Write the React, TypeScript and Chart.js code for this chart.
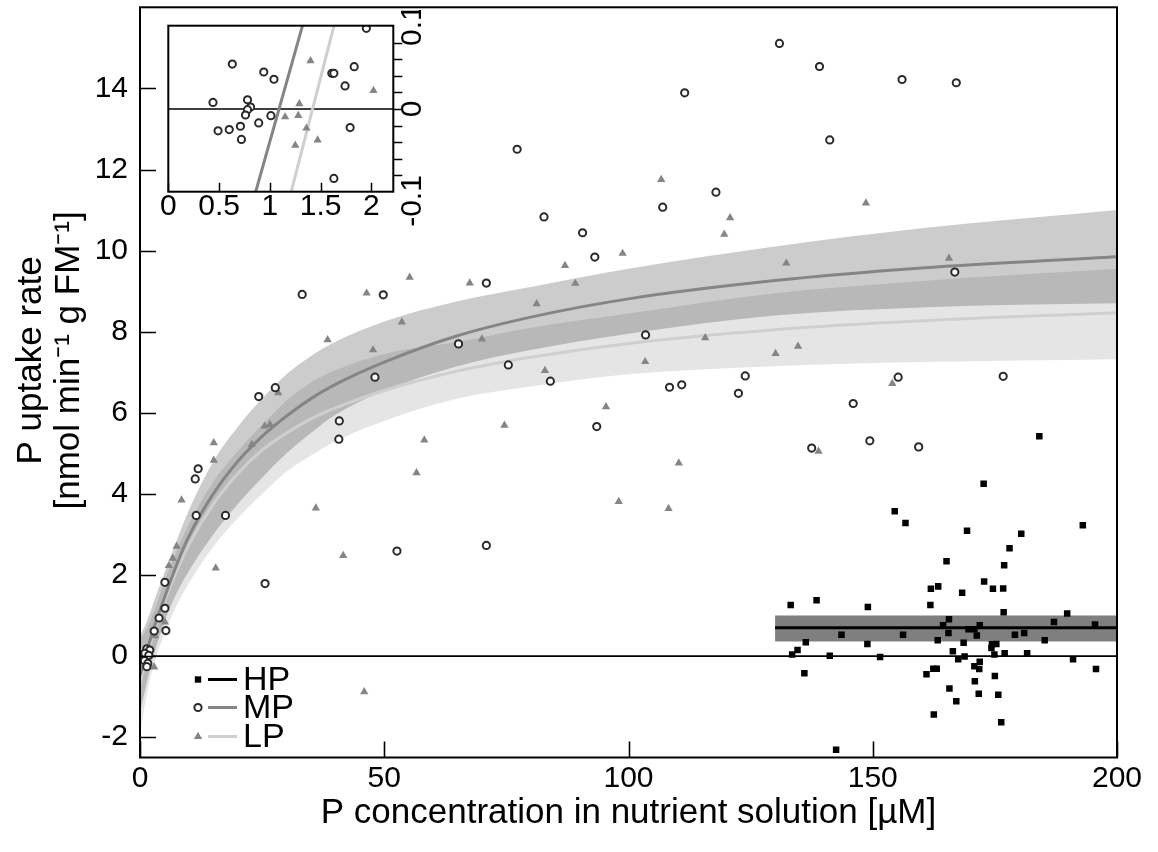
import React, { useEffect, useRef } from 'react';
import { Chart, registerables } from 'chart.js';

Chart.register(...registerables);

const FONT = "'Liberation Sans', Arial, Helvetica, sans-serif";

// ---- main chart axes / text ----
const X_TICKS = [0, 50, 100, 150, 200];
const Y_TICKS = [-2, 0, 2, 4, 6, 8, 10, 12, 14];
const X_TITLE = 'P concentration in nutrient solution [µM]';
const Y_TITLE = ['P uptake rate', '[nmol min⁻¹ g FM⁻¹]'];
const LEGEND_LABELS = ['HP', 'MP', 'LP'];

// ---- HP observations ----
const HP_X = [172.7, 154.5, 156.7, 193.0, 169.3, 180.4, 178.0, 165.1, 176.9, 172.8, 161.9, 163.4, 174.6, 176.7, 168.3, 133.2, 138.5, 149.0, 161.8, 176.8, 189.8, 165.6, 187.1, 195.5, 164.4, 171.9, 169.6, 170.8, 165.5, 143.6, 156.2, 171.3, 179.1, 181.0, 163.3, 185.2, 136.3, 148.9, 168.6, 174.4, 175.3, 174.3, 134.6, 133.5, 141.2, 151.5, 166.4, 167.5, 168.8, 174.9, 177.0, 181.6, 191.0, 171.9, 170.8, 171.8, 136.0, 161.0, 162.4, 163.1, 195.7, 175.0, 170.9, 165.7, 171.7, 175.7, 167.1, 162.5, 176.3, 142.5, 184.1];
const HP_Y = [4.25, 3.57, 3.28, 3.23, 3.09, 3.02, 2.66, 2.34, 2.24, 1.84, 1.66, 1.72, 1.66, 1.67, 1.56, 1.26, 1.38, 1.21, 1.26, 1.08, 1.05, 0.91, 0.84, 0.78, 0.76, 0.76, 0.66, 0.66, 0.57, 0.53, 0.53, 0.51, 0.53, 0.57, 0.39, 0.39, 0.34, 0.30, 0.33, 0.29, 0.30, 0.20, 0.15, 0.04, 0.01, -0.02, 0.12, -0.08, -0.01, 0.04, 0.07, 0.07, -0.08, -0.14, -0.25, -0.32, -0.42, -0.45, -0.31, -0.31, -0.32, -0.49, -0.62, -0.80, -0.93, -0.95, -1.11, -1.44, -1.63, -2.31, 5.42];

// ---- MP observations ----
const MP_X = [130.9, 139.1, 156.0, 167.1, 141.2, 111.5, 77.2, 117.9, 107.0, 82.7, 90.6, 93.1, 70.9, 33.2, 49.8, 166.8, 103.5, 75.4, 84.0, 65.2, 123.9, 108.4, 110.9, 122.5, 93.5, 155.2, 176.7, 146.0, 137.5, 149.4, 159.4, 27.7, 24.3, 48.1, 40.8, 40.7, 11.9, 11.3, 11.5, 17.5, 52.6, 70.9, 25.6, 5.1, 5.1, 3.9, 5.3, 2.9, 1.4, 2.0, 1.0, 1.8, 0.9, 1.6, 1.4];
const MP_Y = [15.11, 14.54, 14.22, 14.14, 12.73, 13.89, 12.50, 11.44, 11.07, 10.83, 10.44, 9.84, 9.20, 8.92, 8.91, 9.47, 7.92, 7.18, 6.78, 7.70, 6.91, 6.63, 6.69, 6.48, 5.66, 6.88, 6.90, 6.23, 5.13, 5.31, 5.16, 6.62, 6.40, 6.88, 5.80, 5.35, 4.62, 4.37, 3.47, 3.47, 2.59, 2.73, 1.79, 1.82, 1.18, 0.94, 0.63, 0.62, 0.18, 0.15, 0.07, 0.02, -0.11, -0.18, -0.26];

// ---- LP observations ----
const LP_X = [106.7, 120.8, 119.6, 98.8, 87.0, 67.5, 89.1, 81.2, 70.0, 115.7, 130.1, 103.4, 82.9, 95.4, 74.6, 110.3, 98.0, 108.2, 148.6, 132.3, 165.6, 134.7, 154.0, 138.9, 55.2, 46.4, 38.4, 53.6, 47.7, 28.3, 25.5, 26.6, 22.9, 15.1, 15.1, 58.2, 56.6, 36.0, 8.5, 41.6, 15.5, 7.5, 6.7, 5.9, 5.1, 3.1, 2.9, 45.9];
const LP_Y = [11.75, 10.81, 10.40, 9.93, 9.63, 9.20, 9.19, 8.69, 7.82, 7.85, 7.46, 7.26, 7.04, 6.15, 5.69, 4.76, 3.81, 3.64, 11.17, 9.69, 9.81, 7.64, 6.72, 5.05, 9.34, 8.95, 7.80, 8.24, 7.55, 6.49, 5.67, 5.71, 5.22, 5.26, 4.83, 5.33, 4.52, 3.65, 3.85, 2.48, 2.17, 2.71, 2.41, 2.23, 0.84, 0.50, -0.27, -0.88];

// ---- fitted curves and confidence bands ----
const FIT_X = [0, 1, 2, 3, 5, 7.5, 10, 15, 20, 25, 30, 35, 40, 50, 65, 80, 100, 130, 160, 200];
const MP_FIT = [-0.48, -0.04, 0.37, 0.75, 1.44, 2.25, 2.95, 4.0, 4.8, 5.42, 5.92, 6.35, 6.7, 7.25, 7.9, 8.36, 8.81, 9.26, 9.57, 9.85];
const MP_LOW = [-1.4, -0.85, -0.35, 0.1, 0.85, 1.55, 2.1, 3.0, 3.75, 4.4, 5.0, 5.5, 5.95, 6.55, 7.15, 7.55, 7.95, 8.4, 8.6, 8.7];
const MP_HIGH = [0.5, 0.75, 1.05, 1.4, 2.05, 2.85, 3.6, 4.8, 5.65, 6.35, 6.95, 7.4, 7.75, 8.25, 8.75, 9.1, 9.55, 10.1, 10.55, 11.0];
const LP_FIT = [-0.66, -0.19, 0.25, 0.64, 1.34, 2.1, 2.75, 3.75, 4.5, 5.08, 5.5, 5.85, 6.12, 6.55, 7.03, 7.37, 7.71, 8.05, 8.27, 8.47];
const LP_LOW = [-1.9, -1.2, -0.6, -0.15, 0.55, 1.25, 1.8, 2.7, 3.4, 4.0, 4.55, 4.95, 5.3, 5.8, 6.35, 6.65, 6.95, 7.15, 7.25, 7.32];
const LP_HIGH = [0.4, 0.6, 0.85, 1.15, 1.85, 2.6, 3.25, 4.3, 5.05, 5.7, 6.3, 6.75, 7.05, 7.45, 7.75, 8.1, 8.45, 8.95, 9.25, 9.55];
const HP_FIT_X = [130, 200];
const HP_FIT = [0.7, 0.7];
const HP_LOW = [0.36, 0.36];
const HP_HIGH = [1.0, 1.0];
const ZERO_X = [0, 200];
const ZERO_Y = [0, 0];

// ---- inset ----
const INSET_X_TICKS = [0, 0.5, 1, 1.5, 2];
const INSET_X_LABELS = ['0', '0.5', '1', '1.5', '2'];
const INSET_Y_MARKS = [-0.1, -0.075, -0.05, -0.025, 0, 0.025, 0.05, 0.075, 0.1];
const INSET_Y_LABEL_VALUES = [0.1, 0, -0.1];
const INSET_Y_LABELS = ['0.1', '0', '-0.1'];
const INSET_MP_X = [1.95, 0.63, 0.94, 1.04, 1.61, 1.63, 1.83, 1.74, 0.44, 0.78, 0.81, 0.78, 0.76, 1.01, 0.89, 0.49, 0.6, 0.71, 0.72, 1.79, 1.63];
const INSET_MP_Y = [0.122, 0.068, 0.056, 0.045, 0.054, 0.054, 0.064, 0.035, 0.01, 0.014, 0.003, -0.001, -0.009, -0.01, -0.021, -0.033, -0.031, -0.026, -0.046, -0.028, -0.105];
const INSET_LP_X = [1.4, 2.02, 1.29, 1.15, 1.28, 1.36, 1.47, 1.25];
const INSET_LP_Y = [0.073, 0.028, 0.008, -0.012, -0.01, -0.029, -0.047, -0.055];
const INSET_MP_LINE_X = [0.8, 1.4];
const INSET_MP_LINE_Y = [-0.158, 0.169];
const INSET_LP_LINE_X = [1.15, 1.7];
const INSET_LP_LINE_Y = [-0.161, 0.167];
const INSET_ZERO_X = [0, 2.3];
const INSET_ZERO_Y = [0, 0];

const pts = (xs: number[], ys: number[]) => xs.map((x, i) => ({ x, y: ys[i] }));

const C_MP_LINE = '#858585';
const C_LP_LINE = '#cfcfcf';
const C_TRI = '#858585';
const C_CIRCLE = '#2a2a2a';

function drawMarker(ctx: CanvasRenderingContext2D, kind: string, x: number, y: number) {
  ctx.save();
  if (kind === 'rect') {
    ctx.fillStyle = '#000';
    ctx.fillRect(x - 3.2, y - 3.2, 6.4, 6.4);
  } else if (kind === 'circle') {
    ctx.beginPath();
    ctx.arc(x, y, 3.6, 0, Math.PI * 2);
    ctx.fillStyle = '#fff';
    ctx.fill();
    ctx.lineWidth = 2;
    ctx.strokeStyle = C_CIRCLE;
    ctx.stroke();
  } else {
    const r = 4.8;
    ctx.beginPath();
    ctx.moveTo(x, y - r);
    ctx.lineTo(x + r * Math.sin(2 * Math.PI / 3), y + r / 2);
    ctx.lineTo(x - r * Math.sin(2 * Math.PI / 3), y + r / 2);
    ctx.closePath();
    ctx.fillStyle = C_TRI;
    ctx.fill();
  }
  ctx.restore();
}

const mainDecor = {
  id: 'mainDecor',
  afterDraw(chart: any) {
    const { ctx, chartArea: a, scales } = chart;
    const xs = scales.x;
    const ys = scales.y;
    ctx.save();
    ctx.strokeStyle = '#000';
    ctx.lineWidth = 2;
    ctx.strokeRect(a.left, a.top, a.right - a.left, a.bottom - a.top);
    ctx.lineWidth = 1.6;
    ctx.beginPath();
    Y_TICKS.forEach((v) => {
      const py = Math.round(ys.getPixelForValue(v)) + 0.5;
      ctx.moveTo(a.left, py);
      ctx.lineTo(a.left + 16, py);
    });
    X_TICKS.forEach((v) => {
      const px = Math.round(xs.getPixelForValue(v)) + 0.5;
      ctx.moveTo(px, a.bottom);
      ctx.lineTo(px, a.bottom - 16);
    });
    ctx.stroke();

    // y-axis title (two lines, rotated)
    ctx.fillStyle = '#000';
    ctx.font = `35px ${FONT}`;
    ctx.textAlign = 'center';
    ctx.textBaseline = 'middle';
    const titleCentre = (a.top + a.bottom) / 2 - 22;
    const titleXs = [31, 69];
    Y_TITLE.forEach((line, i) => {
      ctx.save();
      ctx.translate(titleXs[i], titleCentre);
      ctx.rotate(-Math.PI / 2);
      ctx.fillText(line, 0, 0);
      ctx.restore();
    });

    // legend
    const kinds = ['rect', 'circle', 'triangle'];
    const colors = ['#000', C_MP_LINE, C_LP_LINE];
    const rows = [a.bottom - 78, a.bottom - 50, a.bottom - 21];
    ctx.font = `34px ${FONT}`;
    ctx.textBaseline = 'middle';
    ctx.textAlign = 'left';
    LEGEND_LABELS.forEach((lab, i) => {
      const y = rows[i];
      drawMarker(ctx, kinds[i], a.left + 58, y);
      ctx.beginPath();
      ctx.strokeStyle = colors[i];
      ctx.lineWidth = 3;
      ctx.moveTo(a.left + 68, y);
      ctx.lineTo(a.left + 97, y);
      ctx.stroke();
      ctx.fillStyle = '#000';
      ctx.fillText(lab, a.left + 103, y + 1);
    });
    ctx.restore();
  },
};

const insetDecor = {
  id: 'insetDecor',
  beforeDraw(chart: any) {
    const { ctx, chartArea: a } = chart;
    ctx.save();
    ctx.fillStyle = '#fff';
    ctx.fillRect(a.left, a.top, a.right - a.left, a.bottom - a.top);
    ctx.restore();
  },
  afterDraw(chart: any) {
    const { ctx, chartArea: a, scales } = chart;
    const xs = scales.x;
    const ys = scales.y;
    ctx.save();
    ctx.strokeStyle = '#000';
    ctx.lineWidth = 2;
    ctx.strokeRect(a.left, a.top, a.right - a.left, a.bottom - a.top);
    ctx.lineWidth = 1.5;
    ctx.beginPath();
    INSET_X_TICKS.forEach((v) => {
      const px = Math.round(xs.getPixelForValue(v)) + 0.5;
      ctx.moveTo(px, a.bottom);
      ctx.lineTo(px, a.bottom - 9);
    });
    INSET_Y_MARKS.forEach((v) => {
      const py = Math.round(ys.getPixelForValue(v)) + 0.5;
      ctx.moveTo(a.right, py);
      ctx.lineTo(a.right + 9, py);
    });
    ctx.stroke();
    ctx.fillStyle = '#000';
    ctx.font = `30px ${FONT}`;
    ctx.textBaseline = 'middle';
    const aligns = ['left', 'center', 'right'];
    const nudges = [-3, 0, 0];
    INSET_Y_LABEL_VALUES.forEach((v, i) => {
      const py = ys.getPixelForValue(v);
      ctx.save();
      ctx.translate(a.right + 19, py);
      ctx.rotate(-Math.PI / 2);
      ctx.textAlign = aligns[i] as CanvasTextAlign;
      ctx.fillText(INSET_Y_LABELS[i], nudges[i], 0);
      ctx.restore();
    });
    ctx.restore();
  },
};

function fixPadding(s: any) {
  s.paddingTop = 0;
  s.paddingBottom = 0;
  s.paddingLeft = 0;
  s.paddingRight = 0;
}

export default function App() {
  const mainRef = useRef<HTMLCanvasElement>(null);
  const insetRef = useRef<HTMLCanvasElement>(null);

  useEffect(() => {
    const flat = { pointRadius: 0, pointHoverRadius: 0 };
    const mainChart = new Chart(mainRef.current as HTMLCanvasElement, {
      type: 'line',
      data: {
        datasets: [
          { label: 'HP', data: pts(HP_X, HP_Y), showLine: false, pointStyle: 'rect', pointRadius: 4.6, pointBackgroundColor: '#000', pointBorderWidth: 0, order: 1 },
          { label: 'MP', data: pts(MP_X, MP_Y), showLine: false, pointStyle: 'circle', pointRadius: 3.6, pointBackgroundColor: '#fff', pointBorderColor: C_CIRCLE, pointBorderWidth: 2, order: 2 },
          { label: 'LP', data: pts(LP_X, LP_Y), showLine: false, pointStyle: 'triangle', pointRadius: 4.8, pointBackgroundColor: C_TRI, pointBorderWidth: 0, order: 3 },
          { label: 'HP fit', data: pts(HP_FIT_X, HP_FIT), borderColor: '#000', borderWidth: 3.2, ...flat, fill: false, order: 5 },
          { label: 'MP fit', data: pts(FIT_X, MP_FIT), borderColor: C_MP_LINE, borderWidth: 3, cubicInterpolationMode: 'monotone', ...flat, fill: false, order: 6 },
          { label: 'LP fit', data: pts(FIT_X, LP_FIT), borderColor: C_LP_LINE, borderWidth: 3, cubicInterpolationMode: 'monotone', ...flat, fill: false, order: 7 },
          { label: 'zero', data: pts(ZERO_X, ZERO_Y), borderColor: '#000', borderWidth: 1.6, ...flat, fill: false, order: 8 },
          { label: 'HP low', data: pts(HP_FIT_X, HP_LOW), borderWidth: 0, borderColor: 'rgba(0,0,0,0)', ...flat, fill: false, order: 20 },
          { label: 'HP high', data: pts(HP_FIT_X, HP_HIGH), borderWidth: 0, borderColor: 'rgba(0,0,0,0)', backgroundColor: '#7f7f7f', ...flat, fill: 7, order: 10 },
          { label: 'MP low', data: pts(FIT_X, MP_LOW), borderWidth: 0, borderColor: 'rgba(0,0,0,0)', cubicInterpolationMode: 'monotone', ...flat, fill: false, order: 21 },
          { label: 'MP high', data: pts(FIT_X, MP_HIGH), borderWidth: 0, borderColor: 'rgba(0,0,0,0)', backgroundColor: 'rgba(0,0,0,0.2)', cubicInterpolationMode: 'monotone', ...flat, fill: 9, order: 11 },
          { label: 'LP low', data: pts(FIT_X, LP_LOW), borderWidth: 0, borderColor: 'rgba(0,0,0,0)', cubicInterpolationMode: 'monotone', ...flat, fill: false, order: 22 },
          { label: 'LP high', data: pts(FIT_X, LP_HIGH), borderWidth: 0, borderColor: 'rgba(0,0,0,0)', backgroundColor: 'rgba(0,0,0,0.1)', cubicInterpolationMode: 'monotone', ...flat, fill: 11, order: 12 },
        ] as any,
      },
      options: {
        animation: false,
        responsive: false,
        devicePixelRatio: 1,
        events: [],
        layout: { padding: { top: 7.3, right: 41, left: 0, bottom: 0 } },
        plugins: { legend: { display: false }, tooltip: { enabled: false } },
        scales: {
          x: {
            type: 'linear',
            min: 0,
            max: 200,
            grid: { display: false, drawTicks: false },
            border: { display: false },
            afterBuildTicks: (s: any) => { s.ticks = X_TICKS.map((v) => ({ value: v })); },
            afterFit: (s: any) => { s.height = 94.5; fixPadding(s); },
            ticks: { autoSkip: false, maxRotation: 0, color: '#000', padding: 3, font: { size: 30, family: FONT, lineHeight: 1.2 }, callback: (v: any) => String(v) },
            title: { display: true, text: X_TITLE, color: '#000', font: { size: 35, family: FONT, lineHeight: 1.2 }, padding: { top: 0, bottom: 18 } },
          },
          y: {
            type: 'linear',
            min: -2.5,
            max: 16,
            grid: { display: false, drawTicks: false },
            border: { display: false },
            afterBuildTicks: (s: any) => { s.ticks = Y_TICKS.map((v) => ({ value: v })); },
            afterFit: (s: any) => { s.width = 140; fixPadding(s); },
            ticks: { autoSkip: false, color: '#000', padding: 12, font: { size: 30, family: FONT }, callback: (v: any) => String(v) },
            title: { display: false },
          },
        },
      } as any,
      plugins: [mainDecor],
    });

    const insetChart = new Chart(insetRef.current as HTMLCanvasElement, {
      type: 'line',
      data: {
        datasets: [
          { label: 'MP', data: pts(INSET_MP_X, INSET_MP_Y), showLine: false, pointStyle: 'circle', pointRadius: 3.6, pointBackgroundColor: '#fff', pointBorderColor: C_CIRCLE, pointBorderWidth: 2, order: 1 },
          { label: 'LP', data: pts(INSET_LP_X, INSET_LP_Y), showLine: false, pointStyle: 'triangle', pointRadius: 4.8, pointBackgroundColor: C_TRI, pointBorderWidth: 0, order: 2 },
          { label: 'MP fit', data: pts(INSET_MP_LINE_X, INSET_MP_LINE_Y), borderColor: C_MP_LINE, borderWidth: 3, ...flat, fill: false, order: 3 },
          { label: 'LP fit', data: pts(INSET_LP_LINE_X, INSET_LP_LINE_Y), borderColor: C_LP_LINE, borderWidth: 3, ...flat, fill: false, order: 4 },
          { label: 'zero', data: pts(INSET_ZERO_X, INSET_ZERO_Y), borderColor: '#000', borderWidth: 1.6, ...flat, fill: false, order: 5 },
        ] as any,
      },
      options: {
        animation: false,
        responsive: false,
        devicePixelRatio: 1,
        events: [],
        layout: { padding: { top: 15.7, left: 18.3, right: 0, bottom: 0 } },
        plugins: { legend: { display: false }, tooltip: { enabled: false } },
        scales: {
          x: {
            type: 'linear',
            min: 0,
            max: 2.215,
            grid: { display: false, drawTicks: false },
            border: { display: false },
            afterBuildTicks: (s: any) => { s.ticks = INSET_X_TICKS.map((v) => ({ value: v })); },
            afterFit: (s: any) => { s.height = 43.3; fixPadding(s); },
            ticks: { autoSkip: false, maxRotation: 0, color: '#000', padding: 0, font: { size: 30, family: FONT, lineHeight: 1 }, callback: (v: any) => INSET_X_LABELS[INSET_X_TICKS.indexOf(v)] },
          },
          y: {
            type: 'linear',
            position: 'right',
            min: -0.125,
            max: 0.126,
            grid: { display: false, drawTicks: false },
            border: { display: false },
            afterFit: (s: any) => { s.width = 46.7; fixPadding(s); },
            ticks: { display: false },
          },
        },
      } as any,
      plugins: [insetDecor],
    });

    return () => {
      mainChart.destroy();
      insetChart.destroy();
    };
  }, []);

  return (
    <div style={{ position: 'absolute', left: 0, top: 0, width: 1158, height: 852, background: '#fff' }}>
      <canvas ref={mainRef} width={1158} height={852} style={{ position: 'absolute', left: 0, top: 0, width: 1158, height: 852 }} />
      <canvas ref={insetRef} width={290} height={225} style={{ position: 'absolute', left: 150, top: 10, width: 290, height: 225 }} />
    </div>
  );
}
